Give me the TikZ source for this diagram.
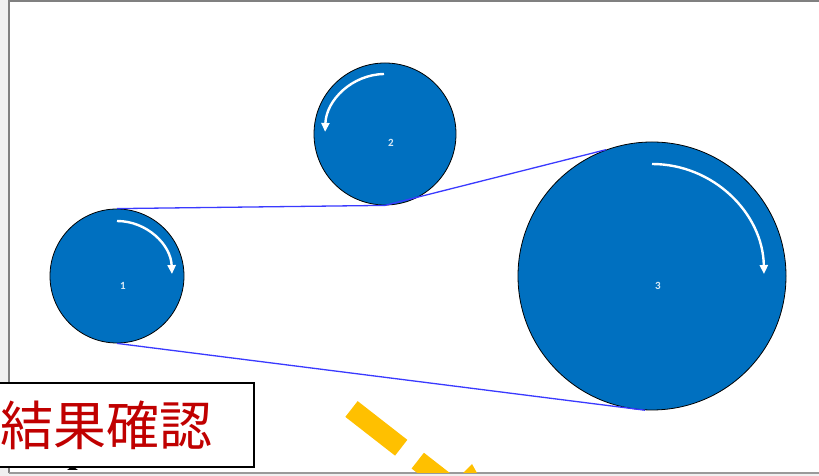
\documentclass[tikz,border=0pt]{standalone}
\usepackage{fontspec}
\setmainfont{Carlito}
\newfontfamily\cjkfont{Noto Sans CJK JP}
\usetikzlibrary{arrows.meta}
\definecolor{pulleyblue}{HTML}{0070C0}
\definecolor{beltblue}{HTML}{3A3AFF}
\definecolor{frameedge}{HTML}{808080}
\definecolor{winbg}{HTML}{F0F0F0}
\definecolor{titlered}{HTML}{C00000}
\definecolor{marky}{HTML}{FFC000}
\begin{document}
\begin{tikzpicture}[x=1pt,y=1pt,
  pulley/.style={circle,draw=black,line width=0.8pt,fill=pulleyblue,inner sep=0pt},
  belt/.style={draw=beltblue,line width=1.3pt},
  turn/.style={draw=white,line width=2.4pt,-{Triangle[length=9pt,width=8pt]}},
  num/.style={text=white!85!pulleyblue,font=\bfseries\fontsize{11}{11}\selectfont,inner sep=0pt},
  titlebox/.style={draw=black,line width=2pt,fill=white,inner sep=0pt},
  titletext/.style={text=titlered,font=\cjkfont\fontsize{53}{53}\selectfont,inner sep=0pt}]
\useasboundingbox (0,0) rectangle (819,476);
% window background and frame
\fill[winbg] (0,0) rectangle (819,476);
\fill[white] (10,3) rectangle (819,474);
\draw[frameedge,line width=2pt] (9,2.5) -- (9,475) -- (819,475);
\draw[frameedge!80,line width=2pt] (9,2.5) -- (819,2.5);
% belt
\node[pulley,minimum size=134pt] (p1) at (117,200) {};
\node[pulley,minimum size=142pt] (p2) at (385,342) {};
\node[pulley,minimum size=268pt] (p3) at (652,200) {};
\draw[belt] (p1.north) -- (p2.south) -- (p3.110);
\draw[belt] (p1.south) -- (p3.267);
% rotation arrows
\draw[turn] (117,255) arc[start angle=90,end angle=2,radius=55];
\draw[turn] (384,402) arc[start angle=91,end angle=178,radius=60];
\draw[turn] (652,312) arc[start angle=90,end angle=1,radius=112];
% numbers
\node[num] (n1) at (123,190) {1};
\node[num] (n2) at (391,333) {2};
\node[num] (n3) at (658,190) {3};
% yellow dashed arrow (clipped at bottom)
\begin{scope}
\clip (10,3) rectangle (819,474);
\draw[marky,line width=20pt,dash pattern=on 63pt off 21pt] (351.5,67) -- (509.3,-56);
\fill[marky] (463,3) -- (472,12) -- (477,3) -- cycle;
\end{scope}
% small black mark
\fill[black] (67,6) -- (72.5,10) -- (78,6) -- cycle;
% title box
\draw[titlebox] (-2,9) rectangle (254,93);
\node[titletext] (title) at (107,51) {結果確認};
\end{tikzpicture}
\end{document}
